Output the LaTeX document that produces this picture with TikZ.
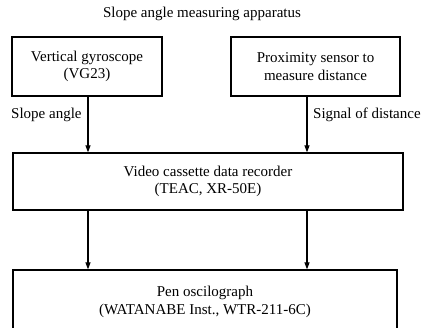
\documentclass[tikz,border=0pt]{standalone}
\usepackage{fontspec}
\setmainfont{Liberation Serif}
\usetikzlibrary{arrows.meta}
\begin{document}
\begin{tikzpicture}[x=1pt,y=-1pt,
  every node/.style={font=\fontsize{15}{17.5}\selectfont, inner sep=0pt},
  unit/.style={draw, line width=1.3pt, align=center},
  flow/.style={line width=1.2pt, -{Triangle[length=7pt,width=5pt]}},
  lbl/.style={anchor=west}]
\useasboundingbox (0,0) rectangle (428,327);
\clip (0,0) rectangle (428,327);

% title
\node (title) at (202,14) {Slope angle measuring apparatus};

% sensors
\node[unit, minimum width=150pt, minimum height=59pt] (gyro) at (87,66.5)
  {Vertical gyroscope\\(VG23)};
\node[unit, minimum width=169pt, minimum height=59pt] (prox) at (315.5,66.5)
  {Proximity sensor to\\measure distance};

% recorder and oscillograph
\node[unit, minimum width=390pt, minimum height=57pt] (rec) at (208,181.5)
  {Video cassette data recorder\\(TEAC, XR-50E)};
\node[unit, minimum width=384pt, minimum height=64pt] (pen) at (205,302)
  {Pen oscilograph\\(WATANABE Inst., WTR-211-6C)};

% signal columns
\coordinate (colA) at (88,0);
\coordinate (colB) at (307,0);

\draw[flow] (gyro.south -| colA) -- (rec.north -| colA);
\draw[flow] (prox.south -| colB) -- (rec.north -| colB);
\draw[flow] (rec.south -| colA) -- (pen.north -| colA);
\draw[flow] (rec.south -| colB) -- (pen.north -| colB);

% signal labels
\node[lbl] (lslope) at (11,115) {Slope angle};
\node[lbl] (lsig) at (313,115) {Signal of distance};
\end{tikzpicture}
\end{document}
